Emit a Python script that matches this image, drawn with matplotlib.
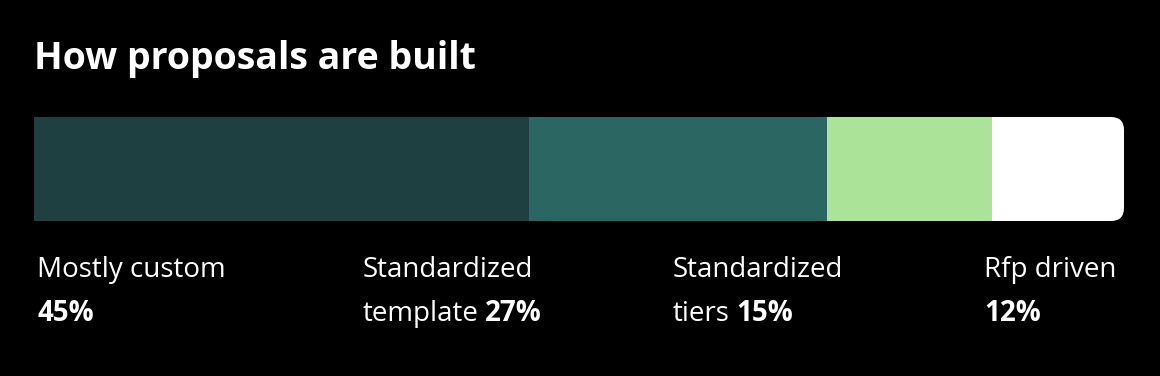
import matplotlib
matplotlib.use("Agg")
import matplotlib.pyplot as plt
from matplotlib.patches import FancyBboxPatch

title = "How proposals are built"
labels = ["Mostly custom", "Standardized\ntemplate", "Standardized\ntiers", "Rfp driven"]
values = [45, 27, 15, 12]
colors = ["#1e4040", "#2c6663", "#abe498", "#ffffff"]
label_x = [37, 363, 673, 984]  # left edges of the label columns, px

W, H = 1160, 376
fig = plt.figure(figsize=(W / 100, H / 100), dpi=100, facecolor="black")
plt.rcParams["font.family"] = ["Open Sans", "DejaVu Sans"]

fig.text(34 / W, 1 - 69 / H, title, color="white", fontsize=27,
         fontweight="bold", va="baseline", ha="left")

# stacked bar
ax = fig.add_axes([34 / W, 1 - 221 / H, 1090 / W, 104 / H])
ax.set_facecolor("black")
left = 0
bars = []
for v, c in zip(values, colors):
    b = ax.barh(0, v, left=left, height=1, color=c, edgecolor="none")
    bars.extend(b.patches)
    left += v
ax.set_xlim(0, sum(values))
ax.set_ylim(-0.5, 0.5)
ax.axis("off")

# rounded right end, square left end
pos = ax.get_position()
fw, fh = fig.get_size_inches()
x0, y0 = pos.x0 * fw, pos.y0 * fh
clip = FancyBboxPatch((x0 - 0.3, y0), pos.width * fw + 0.3, pos.height * fh,
                      boxstyle="round,pad=0,rounding_size=0.13",
                      transform=fig.dpi_scale_trans)
for p in bars:
    p.set_clip_path(clip)

# labels
fig.canvas.draw()
r = fig.canvas.get_renderer()
for lab, v, x in zip(labels, values, label_x):
    lines = lab.split("\n")
    if len(lines) == 1:
        lines.append("")
    y1 = 1 - 277 / H
    y2 = 1 - 321 / H
    fig.text(x / W, y1, lines[0], color="white", fontsize=20, va="baseline")
    bx = x / W
    if lines[1]:
        t = fig.text(x / W, y2, lines[1], color="white", fontsize=20, va="baseline")
        bb = t.get_window_extent(renderer=r)
        bx = (bb.x1 + 6) / W
    fig.text(bx, y2, f"{v}%", color="white", fontsize=20, fontweight="bold",
             va="baseline")

fig.savefig("out.png", dpi=100, facecolor="black")
